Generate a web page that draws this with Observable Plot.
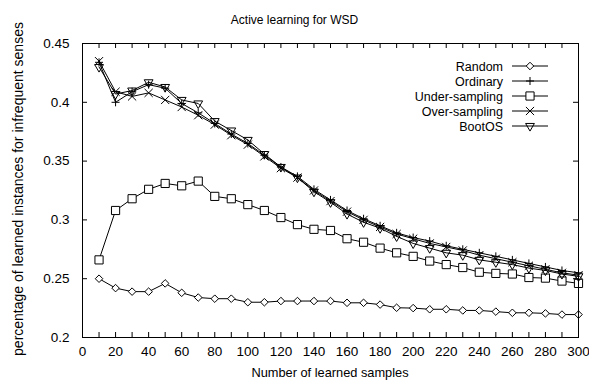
<!DOCTYPE html>
<html><head><meta charset="utf-8">
<script src="https://cdn.jsdelivr.net/npm/d3@7"></script>
<script src="https://cdn.jsdelivr.net/npm/@observablehq/plot@0.6"></script>
<style>body{margin:0;background:#fff} svg{display:block}</style>
</head><body><div id="chart"></div>
<script>
const titleText = "Active learning for WSD";
const xLabel = "Number of learned samples";
const yLabel = "percentage of learned instances for infrequent senses";

const samples = [10,20,30,40,50,60,70,80,90,100,110,120,130,140,150,160,170,180,190,200,210,220,230,240,250,260,270,280,290,300];
const random = [0.250,0.242,0.239,0.239,0.246,0.238,0.234,0.233,0.233,0.230,0.230,0.231,0.231,0.231,0.231,0.2295,0.2295,0.228,0.2253,0.225,0.224,0.224,0.223,0.223,0.222,0.221,0.221,0.2205,0.2195,0.2195];
const ordinary = [0.434,0.400,0.409,0.415,0.412,0.399,0.391,0.382,0.373,0.365,0.355,0.345,0.337,0.326,0.317,0.308,0.301,0.295,0.289,0.285,0.282,0.278,0.275,0.272,0.269,0.266,0.263,0.260,0.257,0.255];
const underSampling = [0.266,0.308,0.318,0.326,0.331,0.329,0.333,0.320,0.318,0.313,0.308,0.302,0.296,0.292,0.291,0.284,0.281,0.276,0.272,0.269,0.265,0.262,0.2595,0.2555,0.2545,0.254,0.251,0.2505,0.248,0.246];
const overSampling = [0.435,0.409,0.405,0.408,0.402,0.396,0.389,0.381,0.372,0.364,0.354,0.344,0.336,0.325,0.316,0.307,0.300,0.294,0.288,0.284,0.280,0.277,0.274,0.270,0.267,0.264,0.261,0.258,0.255,0.253];
const bootOS = [0.430,0.407,0.410,0.417,0.413,0.402,0.399,0.384,0.376,0.368,0.356,0.345,0.336,0.324,0.315,0.305,0.298,0.293,0.286,0.280,0.276,0.272,0.270,0.266,0.264,0.262,0.259,0.257,0.254,0.252];

const seriesNames = ["Random","Ordinary","Under-sampling","Over-sampling","BootOS"];
const seriesValues = [random, ordinary, underSampling, overSampling, bootOS];

const xTickLabels = [0,20,40,60,80,100,120,140,160,180,200,220,240,260,280,300];
const xTickMarks = [0,10,20,30,40,50,60,70,80,90,100,110,120,130,140,150,160,170,180,190,200,210,220,230,240,250,260,270,280,290,300];
const yTickLabels = [0.2,0.25,0.3,0.35,0.4,0.45];

// styles (kept separate from data)
const styles = [
  {symbol: "diamond2", r: 3.4, rotate: 0, fill: "white"},
  {symbol: "plus", r: 2.7, rotate: 0, fill: "none"},
  {symbol: "square2", r: 5.2, rotate: 0, fill: "white"},
  {symbol: "times", r: 3.8, rotate: 0, fill: "none"},
  {symbol: "triangle2", r: 4.2, rotate: 180, fill: "none"}
];

const W = 589, H = 381, mL = 82, mR = 11, mT = 43, mB = 44;
const fw = W - mL - mR, fh = H - mT - mB, tick = 5;

const marks = [];
seriesNames.forEach((name, i) => {
  const data = samples.map((x, j) => ({x, y: seriesValues[i][j], name}));
  const st = styles[i];
  marks.push(Plot.line(data, {x: "x", y: "y", stroke: "black", strokeWidth: 1}));
  marks.push(Plot.dot(data, {x: "x", y: "y", symbol: st.symbol, r: st.r, rotate: st.rotate, stroke: "black", strokeWidth: 1, fill: st.fill}));
});

const chart = Plot.plot({
  width: W, height: H,
  marginLeft: mL, marginRight: mR, marginTop: mT, marginBottom: mB,
  style: {fontFamily: "'Liberation Sans', Arial, sans-serif", color: "black", background: "white"},
  x: {domain: [0, 300]},
  y: {domain: [0.2, 0.45]},
  marks: [
    Plot.tickX(xTickMarks, {x: d => d, insetTop: fh - tick, stroke: "black"}),
    Plot.tickX(xTickMarks, {x: d => d, insetBottom: fh - tick, stroke: "black"}),
    Plot.tickY(yTickLabels, {y: d => d, insetRight: fw - tick, stroke: "black"}),
    Plot.tickY(yTickLabels, {y: d => d, insetLeft: fw - tick, stroke: "black"}),
    Plot.axisX(xTickLabels, {anchor: "bottom", tickSize: 0, tickPadding: 9, fontSize: 13.5, label: null, tickFormat: d => String(d)}),
    Plot.axisY(yTickLabels, {anchor: "left", tickSize: 0, tickPadding: 13, fontSize: 13.5, label: null, tickFormat: d => String(d)}),
    ...marks,
    Plot.frame({stroke: "black"})
  ]
});

const svg = d3.select(chart);
const font = "'Liberation Sans', Arial, sans-serif";
svg.append("text").attr("x", 294.5).attr("y", 24).attr("text-anchor", "middle")
  .style("font-size", "12px").style("font-family", font).attr("fill", "black").text(titleText);
svg.append("text").attr("x", mL + fw / 2).attr("y", 377).attr("text-anchor", "middle")
  .style("font-size", "12.8px").style("font-family", font).attr("fill", "black").text(xLabel);
svg.append("text").attr("transform", "translate(23,189) rotate(-90)").attr("text-anchor", "middle")
  .style("font-size", "14px").style("font-family", font).attr("fill", "black").text(yLabel);

// legend
const symMap = {diamond2: d3.symbolDiamond2, plus: d3.symbolPlus, square2: d3.symbolSquare2, times: d3.symbolTimes, triangle2: d3.symbolTriangle2};
const lg = svg.append("g");
seriesNames.forEach((name, i) => {
  const y = 66 + i * 15;
  const st = styles[i];
  lg.append("text").attr("x", 503).attr("y", y).attr("dy", "0.36em").attr("text-anchor", "end")
    .style("font-size", "12.5px").style("font-family", font).attr("fill", "black").text(name);
  lg.append("line").attr("x1", 512).attr("x2", 548).attr("y1", y).attr("y2", y).attr("stroke", "black");
  lg.append("path").attr("d", d3.symbol(symMap[st.symbol], Math.PI * st.r * st.r)())
    .attr("transform", `translate(530,${y}) rotate(${st.rotate})`)
    .attr("stroke", "black").attr("fill", st.fill);
});

document.getElementById("chart").appendChild(chart);
</script>
</body></html>
